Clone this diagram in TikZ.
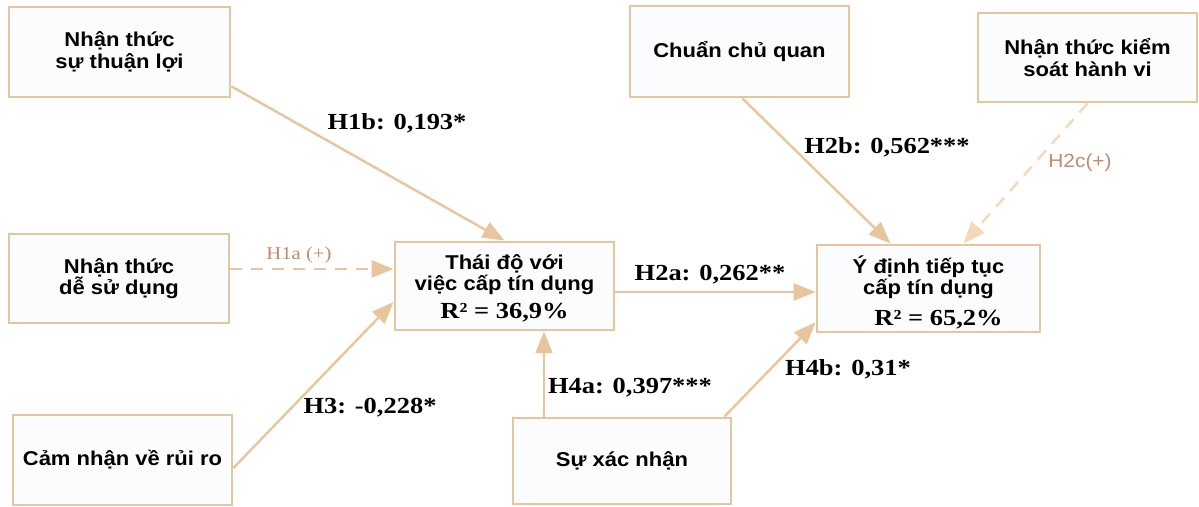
\documentclass[tikz,border=0pt]{standalone}
\usepackage{fontspec}
\setmainfont{Liberation Serif}
\setsansfont{Liberation Sans}
\newfontfamily\boxfont{Liberation Sans}[FakeStretch=1.1]
\newfontfamily\coeffont{Liberation Serif}[FakeStretch=1.15]
\usetikzlibrary{arrows.meta}

\definecolor{boxline}{HTML}{E6C69E}
\definecolor{boxfill}{HTML}{FBFCFE}
\definecolor{pathline}{HTML}{E8C59C}
\definecolor{pathlight}{HTML}{F4D9B6}
\definecolor{hyptext}{HTML}{C28A6C}

\newcommand{\rsqfont}{\coeffont\bfseries\fontsize{23}{25}\selectfont}

\tikzset{
  construct/.style={draw=boxline, fill=boxfill, line width=2.8pt, rectangle,
    align=center, inner sep=0pt,
    font=\boxfont\bfseries\fontsize{20}{21.5}\selectfont},
  path arrow/.style={draw=pathline, line width=2.4pt,
    -{Triangle[length=22pt,width=17pt]}},
  path dashed/.style={path arrow, dash pattern=on 12pt off 9pt},
  coef/.style={font=\coeffont\bfseries\fontsize{23}{25}\selectfont, text=black, inner sep=1pt},
  hyp/.style={text=hyptext, inner sep=1pt}
}

\begin{document}
\begin{tikzpicture}[x=1pt, y=-1pt]
\useasboundingbox (0,0) rectangle (1199,506);

% constructs
\node[construct, minimum width=221pt, minimum height=90pt] (pu) at (119.5,52)
  {Nhận thức\\sự thuận lợi};
\node[construct, minimum width=220pt, minimum height=89pt] (peou) at (119,278.5)
  {Nhận thức\\dễ sử dụng};
\node[construct, minimum width=219pt, minimum height=90pt] (risk) at (122.5,460)
  {Cảm nhận về rủi ro};
\node[construct, minimum width=219pt, minimum height=88pt] (att) at (504.5,286)
  {};
\node[align=center, inner sep=0pt, font=\boxfont\bfseries\fontsize{20}{21.5}\selectfont]
  (attx) at (504.5,288)
  {Thái độ với\\việc cấp tín dụng\\[6pt]{\rsqfont R² = 36,9\%}};
\node[construct, minimum width=223pt, minimum height=87pt] (int) at (928.5,288.5)
  {};
\node[align=center, inner sep=0pt, font=\boxfont\bfseries\fontsize{20}{21.5}\selectfont]
  (intx) at (928.5,292)
  {Ý định tiếp tục\\cấp tín dụng\\[9pt]\hspace*{20pt}{\rsqfont R² = 65,2\%}};
\node[construct, minimum width=219pt, minimum height=91pt] (sn) at (739.5,51.5)
  {Chuẩn chủ quan};
\node[construct, minimum width=219pt, minimum height=89pt] (pbc) at (1087.5,57.5)
  {Nhận thức kiểm\\soát hành vi};
\node[construct, minimum width=218pt, minimum height=86pt] (conf) at (622,461)
  {Sự xác nhận};

% structural paths
\draw[path arrow] ([yshift=12pt]pu.south east) -- (att.north);
\draw[path dashed] ([yshift=9.5pt]peou.east) -- ([yshift=17pt]att.west);
\draw[path arrow] ([yshift=-8pt]risk.east) -- ([yshift=-16pt]att.west);
\draw[path arrow] ([yshift=-6pt]att.east) -- ([yshift=-3.5pt]int.west);
\draw[path arrow] ([xshift=-78pt]conf.north) -- ([xshift=-78pt]conf.north |- att.south);
\draw[path arrow] ([xshift=-8pt]conf.north east) -- ([yshift=11pt]int.south west);
\draw[path arrow] ([xshift=3pt]sn.south) -- ([xshift=-38pt]int.north);
\draw[path dashed, draw=pathlight] (pbc.south) -- ([xshift=35pt]int.north);

% path coefficients
\node[coef] (l1b) at (397,123) {H1b: 0,193*};
\node[coef] (l2b) at (887,147) {H2b: 0,562***};
\node[coef] (l2a) at (710,275) {H2a: 0,262**};
\node[coef] (l3) at (370,408) {H3: -0,228*};
\node[coef] (l4a) at (630,388) {H4a: 0,397***};
\node[coef] (l4b) at (848,369) {H4b: 0,31*};
\node[hyp, font=\coeffont\fontsize{18}{20}\selectfont] (l1a) at (299,255) {H1a (+)};
\node[hyp, font=\boxfont\fontsize{19}{21}\selectfont] (l2c) at (1080,163) {H2c(+)};
\end{tikzpicture}
\end{document}
